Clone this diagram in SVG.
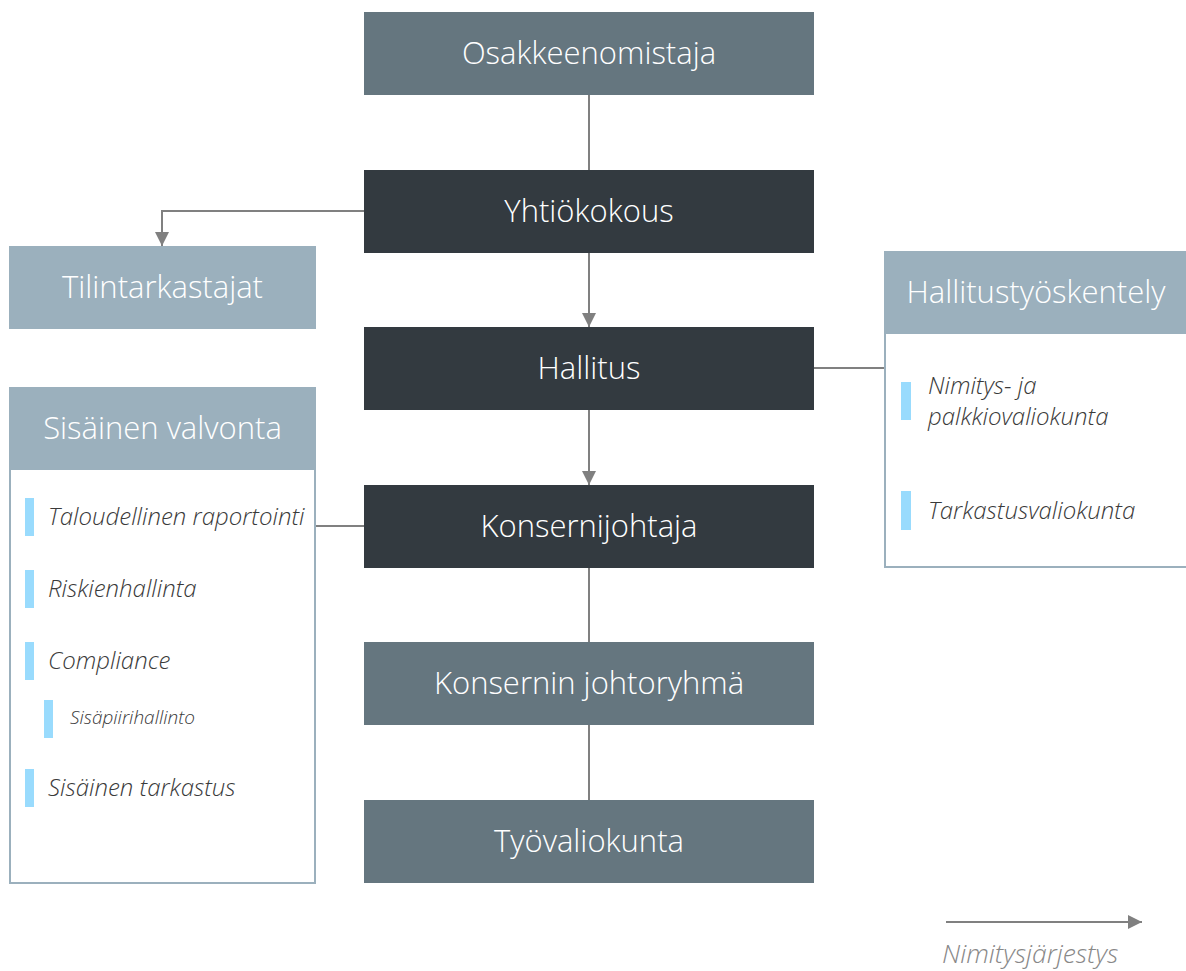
<svg xmlns="http://www.w3.org/2000/svg" width="1186" height="971" viewBox="0 0 1186 971">
<defs>
<marker id="ah" viewBox="0 0 10 10" refX="10" refY="5" markerWidth="14" markerHeight="14" markerUnits="userSpaceOnUse" orient="auto"><path d="M0,0 L10,5 L0,10 z" fill="#808080"/></marker>
</defs>
<style>
.slate{fill:#65767f}
.dark{fill:#333a40}
.light{fill:#9bb0bd}
.frame{fill:#fff;stroke:#9bb0bd;stroke-width:2}
.t{font-family:"Open Sans","Liberation Sans",sans-serif;font-weight:300;font-size:31px;fill:#fff;text-anchor:middle}
.it{font-family:"Open Sans","Liberation Sans",sans-serif;font-weight:300;font-style:italic;font-size:24px;fill:#3a3a3a}
.bar{fill:#99dbfd}
.c{stroke:#808080;stroke-width:2;fill:none}
</style>
<g id="connectors">
<path class="c" d="M589,95 V170"/>
<path class="c" d="M589,253 V327" marker-end="url(#ah)"/>
<path class="c" d="M589,410 V485" marker-end="url(#ah)"/>
<path class="c" d="M589,568 V642"/>
<path class="c" d="M589,725 V800"/>
<path class="c" d="M364,211 H162 V246" marker-end="url(#ah)"/>
<path class="c" d="M814,368 H884"/>
<path class="c" d="M316,526 H364"/>
</g>
<g id="osakkeenomistaja"><rect class="slate" x="364" y="12" width="450" height="83"/><text class="t" x="589" y="64">Osakkeenomistaja</text></g>
<g id="yhtiokokous"><rect class="dark" x="364" y="170" width="450" height="83"/><text class="t" x="589" y="222">Yhtiökokous</text></g>
<g id="hallitus"><rect class="dark" x="364" y="327" width="450" height="83"/><text class="t" x="589" y="379">Hallitus</text></g>
<g id="konsernijohtaja"><rect class="dark" x="364" y="485" width="450" height="83"/><text class="t" x="589" y="537">Konsernijohtaja</text></g>
<g id="johtoryhma"><rect class="slate" x="364" y="642" width="450" height="83"/><text class="t" x="589" y="694">Konsernin johtoryhmä</text></g>
<g id="tyovaliokunta"><rect class="slate" x="364" y="800" width="450" height="83"/><text class="t" x="589" y="852">Työvaliokunta</text></g>
<g id="tilintarkastajat"><rect class="light" x="9" y="246" width="307" height="83"/><text class="t" x="162.5" y="298">Tilintarkastajat</text></g>
<g id="sisainen-valvonta">
<rect class="frame" x="10" y="388" width="305" height="495"/>
<rect class="light" x="9" y="387" width="307" height="83"/>
<text class="t" x="162.5" y="439">Sisäinen valvonta</text>
<rect class="bar" x="25" y="498" width="9" height="38"/><text class="it" x="48" y="525">Taloudellinen raportointi</text>
<rect class="bar" x="25" y="570" width="9" height="38"/><text class="it" x="48" y="597">Riskienhallinta</text>
<rect class="bar" x="25" y="642" width="9" height="38"/><text class="it" x="48" y="669">Compliance</text>
<rect class="bar" x="44" y="700" width="9" height="38"/><text class="it" x="70" y="724" style="font-size:19px">Sisäpiirihallinto</text>
<rect class="bar" x="25" y="769" width="9" height="38"/><text class="it" x="48" y="796">Sisäinen tarkastus</text>
</g>
<g id="hallitustyoskentely">
<rect class="frame" x="885" y="252" width="302" height="315"/>
<rect class="light" x="884" y="251" width="302" height="83"/>
<text class="t" x="1036" y="303">Hallitustyöskentely</text>
<rect class="bar" x="901" y="382" width="10" height="38"/><text class="it" x="928" y="394">Nimitys- ja</text><text class="it" x="928" y="425">palkkiovaliokunta</text>
<rect class="bar" x="901" y="491" width="10" height="39"/><text class="it" x="928" y="519">Tarkastusvaliokunta</text>
</g>
<g id="legend">
<path class="c" d="M946,922 H1142" marker-end="url(#ah)"/>
<text class="it" x="942" y="963" style="fill:#888;font-size:26.5px">Nimitysjärjestys</text>
</g>
</svg>
